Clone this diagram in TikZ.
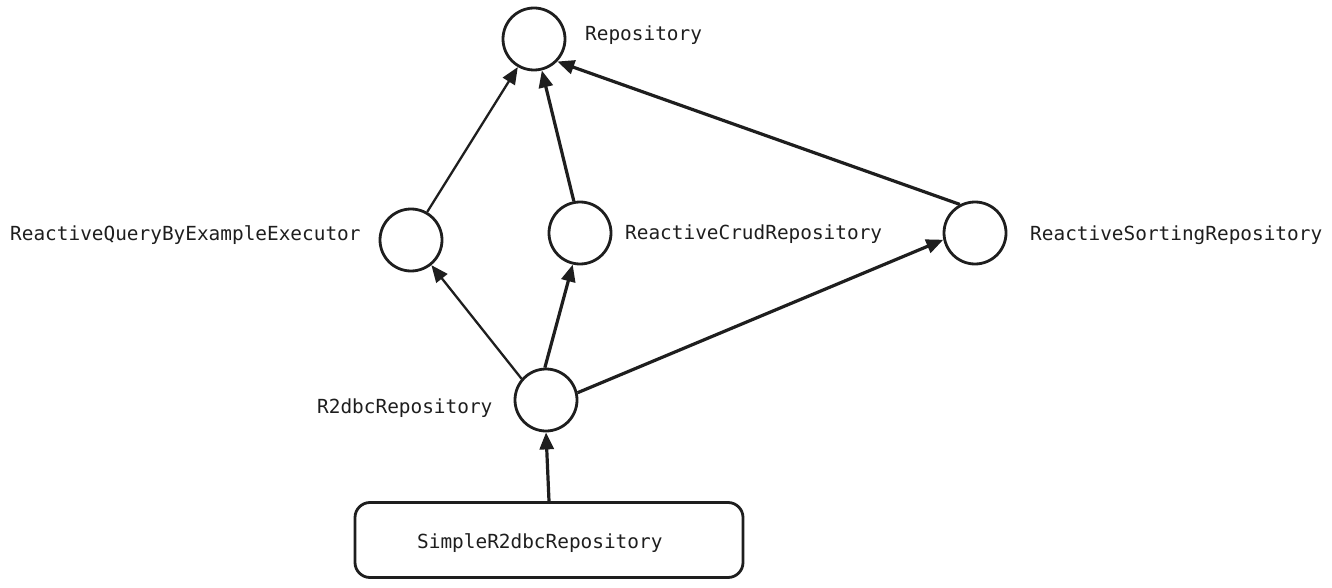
\documentclass[tikz,border=0pt]{standalone}
\usepackage{fontspec}
\setmonofont{DejaVu Sans Mono}
\usetikzlibrary{arrows.meta}
\definecolor{ink}{HTML}{1E1E1E}
\tikzset{
  iface/.style={circle, draw=ink, line width=2.8pt, minimum size=62pt, inner sep=0pt},
  lbl/.style={anchor=west, inner sep=0pt, text=ink, font=\ttfamily\fontsize{19.4}{22}\selectfont},
  cls/.style={draw=ink, line width=2.8pt, rounded corners=15pt, minimum width=388pt, minimum height=75pt, inner sep=0pt},
  conn/.style={draw=ink, line width=3.2pt, -{Triangle[length=17pt,width=14pt]}},
  thinconn/.style={conn, line width=2.3pt}
}
\begin{document}
\begin{tikzpicture}[x=1pt,y=-1pt]
\useasboundingbox (0,0) rectangle (1332,588);
% interfaces
\node[iface] (repo) at (534,39) {};
\node[iface] (qbe) at (411,240) {};
\node[iface] (crud) at (580,233) {};
\node[iface] (sort) at (975,233) {};
\node[iface] (r2) at (546,400) {};
\node[cls] (simple) at (549,540) {};
% labels
\node[lbl] (simpleL) at (417,543) {SimpleR2dbcRepository};
\node[lbl] (repoL) at (585,35) {Repository};
\node[lbl] (qbeL) at (10,235) {ReactiveQueryByExampleExecutor};
\node[lbl] (crudL) at (625,234) {ReactiveCrudRepository};
\node[lbl] (sortL) at (1030,235) {ReactiveSortingRepository};
\node[lbl] (r2L) at (317,408) {R2dbcRepository};
% connectors
\draw[thinconn] (qbe.60) -- (repo.240);
\draw[conn] (crud.101) -- (repo.284);
\draw[conn] (sort.118) -- (repo.316);
\draw[thinconn] (r2.139) -- (qbe.309);
\draw[conn] (r2.92) -- (crud.257);
\draw[conn] (r2.13) -- (sort.192);
\draw[conn] (simple.north) -- (r2.south);
\end{tikzpicture}
\end{document}
